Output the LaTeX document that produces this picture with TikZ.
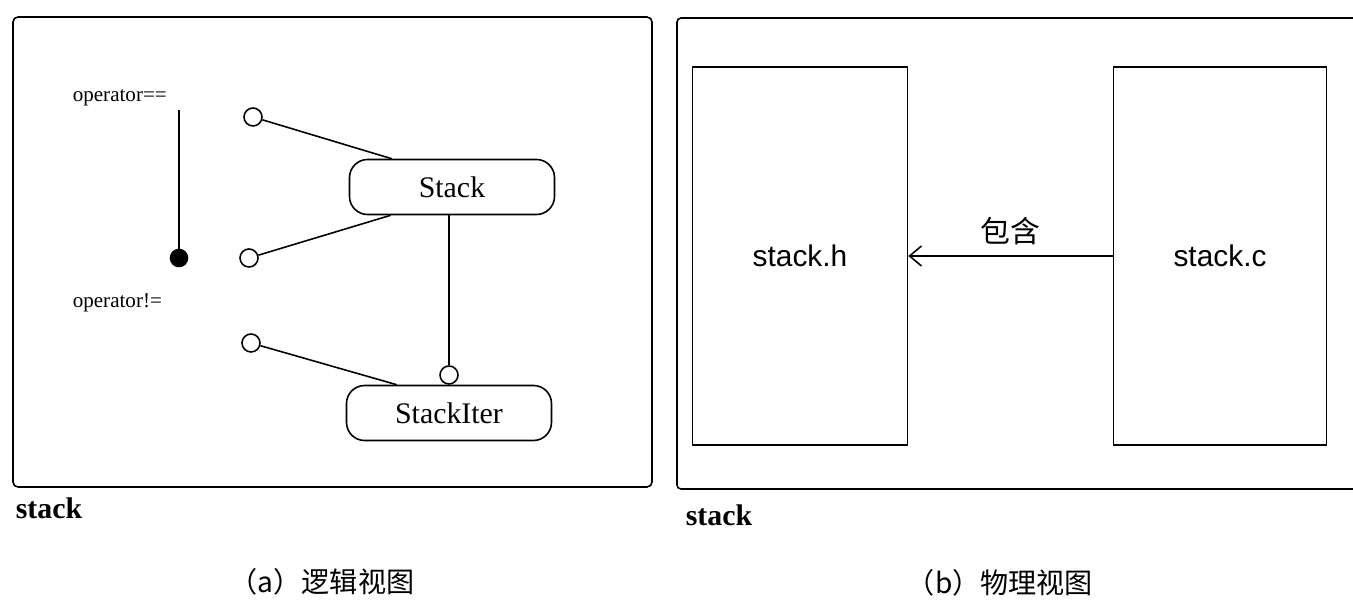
\documentclass[tikz,border=0pt]{standalone}
\usepackage{fontspec}
\setmainfont{Liberation Serif}
\newfontfamily\arialfont{Liberation Sans}
\newfontfamily\cjk{Noto Sans CJK SC}
\usetikzlibrary{arrows.meta,positioning}

\begin{document}
\begin{tikzpicture}[x=0.02cm,y=-0.02cm,line width=0.9pt,
  cls/.style={draw,rounded corners=0.36cm,minimum width=4.1cm,minimum height=1.1cm,font=\fontsize{17}{20}\selectfont},
  iface/.style={draw,circle,fill=white,inner sep=0pt,minimum size=0.36cm},
  fn/.style={font=\fontsize{12}{14}\selectfont,inner sep=0pt},
  pkg/.style={font=\fontsize{17}{20}\selectfont\bfseries,inner sep=0pt},
  file/.style={draw,minimum width=4.3cm,minimum height=7.56cm,font=\arialfont\fontsize{17}{20}\selectfont},
  caption/.style={font=\cjk\fontsize{16}{18}\selectfont,inner sep=0pt},
  incarrow/.style={{Straight Barb[length=0.24cm,width=0.4cm]}-}]
\useasboundingbox (0,0) rectangle (1353,607);

% (a) logical view
\draw[rounded corners=0.1cm] (13,17) -- (652,17) -- (652,487) -- (13,487) -- cycle;
\node[cls] (stack) at (452,187) {Stack};
\node[cls] (iter) at (449,413) {StackIter};
\node[fn,anchor=west] (opeq) at (72,98) {operator==};
\node[fn,anchor=west] (opne) at (72,303) {operator!=};
\coordinate (optop) at (179,110);
\node[draw,circle,fill=black,inner sep=0pt,minimum size=0.34cm] (opdot) at (179,258) {};
\draw (optop) -- (opdot);
\node[iface] (i1) at (253,117) {};
\node[iface] (i2) at (249,258) {};
\node[iface] (i3) at (251,343) {};
\node[iface] (i4) at (449,375) {};
\draw (i1) -- ([xshift=0.86cm]stack.north west);
\draw (i2) -- ([xshift=0.84cm]stack.south west);
\draw (i3) -- ([xshift=1.02cm]iter.north west);
\draw (stack.south -| i4) -- (i4);
\node[pkg,anchor=west] (pkga) at (15,508) {stack};
\node[caption] (capa) at (322,582) {（a）逻辑视图};

% (b) physical view
\draw[rounded corners=0.08cm] (1353,18) -- (677,18) -- (677,489) -- (1353,489);
\node[file] (stackh) at (800,256) {stack.h};
\node[file,minimum width=4.26cm] (stackc) at (1220,256) {stack.c};
\draw[incarrow] (stackh.east) -- (stackc.west)
  node[midway,above=0.2cm,caption,font=\cjk\fontsize{17}{20}\selectfont] (incltxt) {包含};
\node[pkg,anchor=west] (pkgb) at (685,515) {stack};
\node[caption] (capb) at (1000,583) {（b）物理视图};
\end{tikzpicture}
\end{document}
